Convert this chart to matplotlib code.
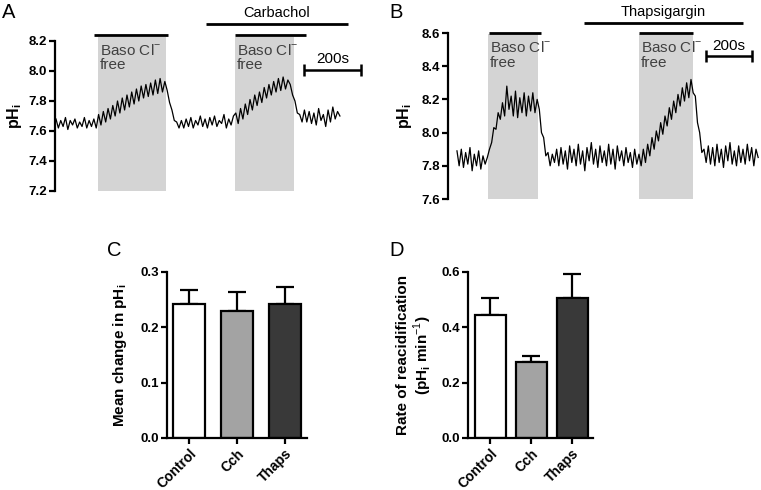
import numpy as np
import matplotlib
matplotlib.use('Agg')
import matplotlib.pyplot as plt

plt.rcParams['font.family'] = ['Liberation Sans', 'DejaVu Sans']
plt.rcParams['mathtext.fontset'] = 'custom'
plt.rcParams['mathtext.rm'] = 'Liberation Sans'
plt.rcParams['mathtext.bf'] = 'Liberation Sans:bold'

# --- panel A trace (pHi), 0..996 s
t_a_end = 996
ph_a = [7.68, 7.62, 7.67, 7.63, 7.69, 7.61, 7.67, 7.64, 7.68, 7.62, 7.66, 7.63, 7.69, 7.62, 7.67, 7.63, 7.68, 7.62,
        7.71, 7.64, 7.73, 7.66, 7.75, 7.68, 7.77, 7.70, 7.80, 7.72, 7.82, 7.74, 7.84, 7.76, 7.86, 7.78, 7.88, 7.80,
        7.90, 7.82, 7.91, 7.83, 7.92, 7.84, 7.94, 7.85, 7.95, 7.86, 7.93,
        7.87, 7.79, 7.74, 7.67, 7.66, 7.62,
        7.67, 7.62, 7.68, 7.63, 7.69, 7.62, 7.67, 7.64, 7.70, 7.63, 7.68, 7.62, 7.69, 7.64, 7.70, 7.63, 7.67, 7.65,
        7.71, 7.62, 7.68, 7.64, 7.70,
        7.72, 7.65, 7.75, 7.68, 7.78, 7.71, 7.81, 7.74, 7.84, 7.77, 7.86, 7.79, 7.89, 7.82, 7.91, 7.84, 7.93, 7.86,
        7.95, 7.87, 7.96, 7.88, 7.94,
        7.91, 7.84, 7.80, 7.72, 7.71, 7.66,
        7.74, 7.66, 7.73, 7.65, 7.72, 7.64, 7.75, 7.67, 7.71, 7.63, 7.74, 7.66, 7.76, 7.68, 7.73, 7.70]
a_free = [(147, 386), (628, 835)]          # Baso Cl- free periods (s)
a_free_bars = [(133, 393), (628, 877)]
a_drug = (526, 1025)
a_drug_name = 'Carbachol'
a_scale = (870, 1070)

# --- panel B trace (pHi), 0..1309 s
t_b_end = 1309
ph_b = [7.89, 7.80, 7.90, 7.79, 7.88, 7.81, 7.91, 7.77, 7.87, 7.80, 7.89, 7.78, 7.86, 7.81, 7.85,
        7.90, 7.94, 8.03, 8.02, 8.12, 8.08, 8.18, 8.10, 8.28, 8.14,
        8.22, 8.10, 8.25, 8.09, 8.21, 8.12, 8.24, 8.10, 8.22, 8.13, 8.24, 8.12, 8.20,
        8.14, 8.00, 7.97, 7.86, 7.88, 7.80, 7.87,
        7.82, 7.90, 7.80, 7.91, 7.81, 7.89, 7.78, 7.92, 7.82, 7.90, 7.80, 7.93, 7.81, 7.89, 7.77, 7.91, 7.83, 7.94,
        7.81, 7.90, 7.79, 7.92, 7.82, 7.89, 7.80, 7.93, 7.81, 7.90, 7.78, 7.92, 7.83, 7.89, 7.80, 7.91, 7.82, 7.88,
        7.79, 7.90, 7.81, 7.87, 7.80,
        7.90, 7.82, 7.93, 7.86, 7.97, 7.90, 8.01, 7.95, 8.06, 7.99, 8.10, 8.04, 8.15, 8.08, 8.19, 8.12, 8.23, 8.16,
        8.27, 8.19, 8.30, 8.21, 8.32, 8.24,
        8.22, 8.06, 8.00, 7.88, 7.90, 7.82,
        7.92, 7.81, 7.91, 7.80, 7.93, 7.82, 7.90, 7.79, 7.92, 7.83, 7.94, 7.81, 7.89, 7.80, 7.92, 7.82, 7.90, 7.81,
        7.93, 7.83, 7.91, 7.80, 7.90, 7.85]
b_free = [(135, 352), (791, 1026)]
b_free_bars = [(139, 365), (791, 1026)]
b_drug = (552, 1243)
b_drug_name = 'Thapsigargin'
b_scale = (1083, 1283)

# --- bar panels
groups = ['Control', 'Cch', 'Thaps']
bar_colours = ['white', '#a3a3a3', '#393939']
change_mean = [0.243, 0.230, 0.243]
change_sem = [0.024, 0.033, 0.029]
rate_mean = [0.445, 0.273, 0.507]
rate_sem = [0.062, 0.022, 0.086]

W, H = 761, 490
fig = plt.figure(figsize=(W / 100, H / 100), dpi=100)


def px_axes(left, top, right, bottom):
    return fig.add_axes([left / W, 1 - bottom / H, (right - left) / W, (bottom - top) / H])


def trace_panel(ax, ph, t_end, free, free_bars, drug, drug_name, scale, ylim, ticks,
                shade_top, bar_y, drug_y, scale_y):
    t = np.linspace(0, t_end, len(ph))
    for s, e in free:
        ax.fill_between([s, e], ylim[0], shade_top, color='#d4d4d4', lw=0, zorder=1, clip_on=False)
        ax.annotate('Baso Cl$^{-}$', (s, shade_top), xytext=(1.5, -4), textcoords='offset points',
                    fontsize=11, color='#404040', va='top', ha='left', zorder=3, annotation_clip=False)
        ax.annotate('free', (s, shade_top), xytext=(1.5, -15.5), textcoords='offset points',
                    fontsize=11, color='#404040', va='top', ha='left', zorder=3, annotation_clip=False)
    for s, e in free_bars:
        ax.plot([s, e], [bar_y, bar_y], color='black', lw=2, clip_on=False, solid_capstyle='butt')
    ax.plot(drug, [drug_y, drug_y], color='black', lw=2, clip_on=False, solid_capstyle='butt')
    ax.annotate(drug_name, (np.mean(drug), drug_y), xytext=(0, 3), textcoords='offset points',
                fontsize=10.5, ha='center', va='bottom', annotation_clip=False)
    ax.errorbar([np.mean(scale)], [scale_y], xerr=[(scale[1] - scale[0]) / 2], color='black',
                lw=1.8, capsize=4, capthick=1.8, clip_on=False)
    ax.annotate('200s', (np.mean(scale), scale_y), xytext=(0, 2.5), textcoords='offset points',
                fontsize=11, ha='center', va='bottom', annotation_clip=False)
    ax.plot(t, ph, color='black', lw=0.9, zorder=2)
    ax.set_ylim(ylim)
    ax.set_yticks(ticks)
    ax.set_yticklabels(['%.1f' % v for v in ticks], fontweight='bold', fontsize=9.5)
    ax.set_xticks([])
    for side in ['top', 'right', 'bottom']:
        ax.spines[side].set_visible(False)
    ax.spines['left'].set_linewidth(1.6)
    ax.tick_params(axis='y', width=1.6, length=4, pad=2)
    ax.patch.set_visible(False)


ax_a = px_axes(55, 41, 365, 191)
ax_a.set_xlim(-3.5, 1084)
trace_panel(ax_a, ph_a, t_a_end, a_free, a_free_bars, a_drug, a_drug_name, a_scale,
            (7.2, 8.2), [7.2, 7.4, 7.6, 7.8, 8.0, 8.2], 8.227, 8.24, 8.313, 8.007)
ax_a.set_ylabel('pH$_\\mathregular{i}$', fontsize=11.5, fontweight='bold', labelpad=3)

ax_b = px_axes(448, 33, 760, 199)
ax_b.set_xlim(-39, 1317)
trace_panel(ax_b, ph_b, t_b_end, b_free, b_free_bars, b_drug, b_drug_name, b_scale,
            (7.6, 8.6), [7.6, 7.8, 8.0, 8.2, 8.4, 8.6], 8.594, 8.6, 8.66, 8.461)
ax_b.set_ylabel('pH$_\\mathregular{i}$', fontsize=11.5, fontweight='bold', labelpad=5)


def bar_panel(ax, means, sems, ylim, ticks, xlim, width):
    x = np.arange(len(groups))
    ax.errorbar(x, means, yerr=[[0] * len(x), sems], fmt='none', ecolor='black', elinewidth=1.6,
                capsize=6.5, capthick=1.6, zorder=1)
    ax.bar(x, means, width=width, color=bar_colours, edgecolor='black', linewidth=1.6, zorder=2)
    ax.set_xlim(xlim)
    ax.set_ylim(ylim)
    ax.set_yticks(ticks)
    ax.set_yticklabels(['%.1f' % v for v in ticks], fontweight='bold', fontsize=9.5)
    ax.set_xticks(x)
    ax.set_xticklabels(groups, rotation=45, ha='right', rotation_mode='anchor', fontweight='bold',
                       fontsize=10)
    for side in ['top', 'right']:
        ax.spines[side].set_visible(False)
    for side in ['left', 'bottom']:
        ax.spines[side].set_linewidth(1.6)
    ax.tick_params(width=1.6, length=4, pad=2)


ax_c = px_axes(167, 272, 307, 438)
bar_panel(ax_c, change_mean, change_sem, (0, 0.3), [0.0, 0.1, 0.2, 0.3], (-0.46, 2.47), 0.67)
ax_c.set_ylabel('Mean change in pH$_\\mathregular{i}$', fontsize=11, fontweight='bold', labelpad=8)

ax_d = px_axes(468, 272, 593, 438)
bar_panel(ax_d, rate_mean, rate_sem, (0, 0.6), [0.0, 0.2, 0.4, 0.6], (-0.54, 2.51), 0.76)
ax_d.set_ylabel('Rate of reacidification\n(pH$_\\mathregular{i}$ min$^{-1}$)', fontsize=11,
                fontweight='bold', labelpad=5, linespacing=1.1)

for letter, x, y in [('A', 2, 12), ('B', 389, 12), ('C', 107, 250), ('D', 389, 250)]:
    fig.text(x / W, 1 - y / H, letter, fontsize=14.5, va='center', ha='left')

fig.savefig('out.png', dpi=100)
